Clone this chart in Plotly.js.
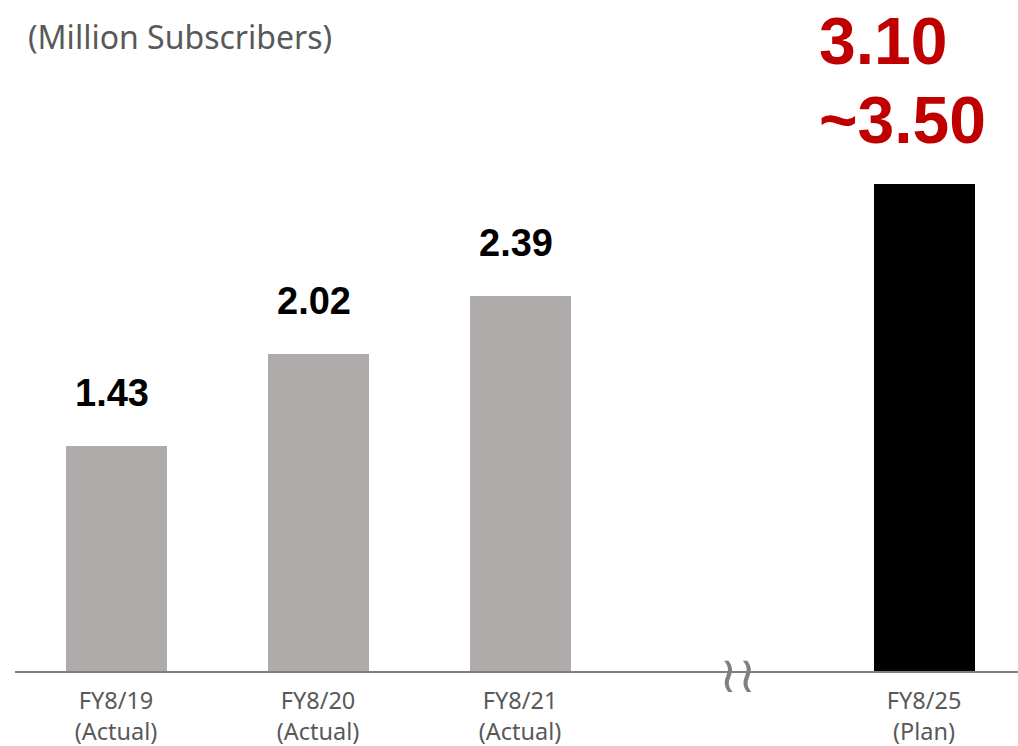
<!DOCTYPE html>
<html>
<head>
<meta charset="utf-8">
<script src="https://cdn.plot.ly/plotly-3.0.1.min.js"></script>
<style>html,body{margin:0;padding:0;background:#fff;}#chart{width:1018px;height:746px;}</style>
</head>
<body>
<div id="chart"></div>
<script>
const positions = [0, 1, 2, 4];
const tickLabels = ["FY8/19<br>(Actual)", "FY8/20<br>(Actual)", "FY8/21<br>(Actual)", "FY8/25<br>(Plan)"];
const actualValues = [1.43, 2.02, 2.39];
const planLow = 3.10;
const planHigh = 3.50;
const valueLabels = ["1.43", "2.02", "2.39"];
const planLines = ["3.10", "~3.50"];
const breakPosition = 3;

const traces = [
  {
    type: "bar",
    x: positions.slice(0, 3),
    y: actualValues,
    width: 0.5,
    marker: {color: "#AFABAB"},
    hoverinfo: "skip"
  },
  {
    type: "bar",
    x: [positions[3]],
    y: [planLow],
    width: 0.5,
    marker: {color: "#000000"},
    hoverinfo: "skip"
  }
];

const annotations = actualValues.map((v, i) => ({
  x: positions[i], y: v, xref: "x", yref: "y",
  text: valueLabels[i], showarrow: false,
  yanchor: "bottom", yshift: 30, xshift: -4,
  font: {family: "Liberation Sans, Arial, sans-serif", size: 38, color: "#000000", weight: "bold"}
}));
planLines.forEach((t, i) => {
  annotations.push({
    x: positions[3], y: planLow, xref: "x", yref: "y",
    text: t, showarrow: false, align: "left",
    xanchor: "left", xshift: -107,
    yanchor: "bottom", yshift: 25 + (planLines.length - 1 - i) * 79,
    font: {family: "Liberation Sans, Arial, sans-serif", size: 66, color: "#C00000", weight: "bold"}
  });
});
annotations.push({
  x: breakPosition, y: 0, xref: "x", yref: "y",
  text: "≀≀", showarrow: false, yanchor: "middle", xshift: 16, yshift: -4,
  font: {family: "DejaVu Sans, sans-serif", size: 50, color: "#808080"}
});

const layout = {
  width: 1018, height: 746,
  margin: {l: 15, r: 0, t: 43, b: 75},
  paper_bgcolor: "#ffffff", plot_bgcolor: "#ffffff",
  showlegend: false,
  bargap: 0,
  title: {
    text: "(Million Subscribers)",
    x: 28/1018, xanchor: "left", xref: "container",
    y: 1 - 38/746, yanchor: "middle", yref: "container",
    font: {family: "Noto Sans, sans-serif", size: 32, color: "#595959"}
  },
  xaxis: {
    range: [-0.5, 4.465],
    tickmode: "array", tickvals: positions, ticktext: tickLabels,
    showgrid: false, zeroline: false,
    showline: true, linecolor: "#7F7F7F", linewidth: 2,
    ticks: "", fixedrange: true, ticklabelstandoff: 8,
    tickfont: {family: "Noto Sans, sans-serif", size: 23.5, color: "#595959"}
  },
  yaxis: {
    range: [0, 4], visible: false, showgrid: false, zeroline: false, fixedrange: true
  },
  annotations: annotations
};

Plotly.newPlot("chart", traces, layout, {displayModeBar: false, staticPlot: true});
</script>
</body>
</html>
